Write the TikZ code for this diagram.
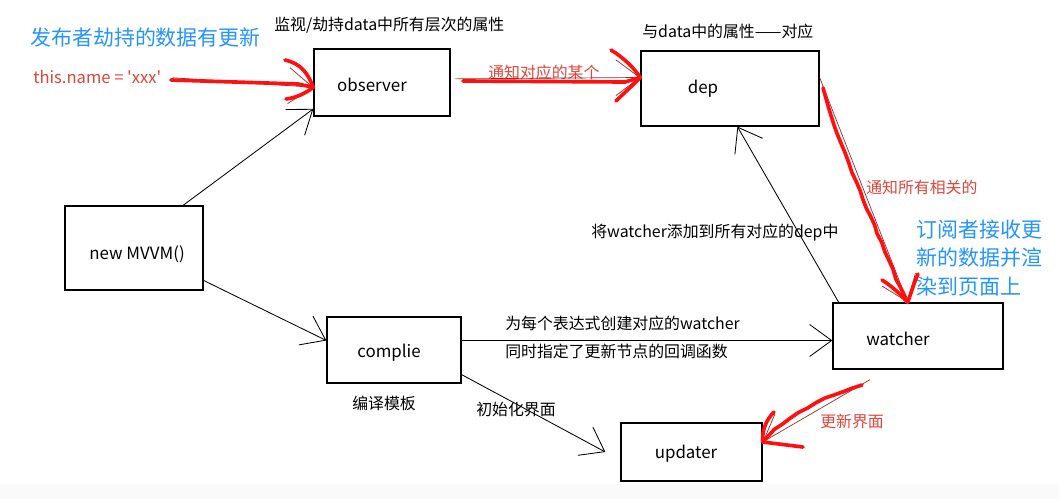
\documentclass[tikz,border=0pt]{standalone}
\usepackage{fontspec}
\setmainfont{Noto Sans CJK SC}
\newfontfamily\codefont{Noto Sans CJK SC}
\usepackage{tikz}
\usetikzlibrary{arrows.meta,calc,decorations.pathmorphing}
\usepackage{xcolor}
\definecolor{notered}{RGB}{221,70,58}
\definecolor{noteblue}{RGB}{36,148,255}
\definecolor{penred}{RGB}{255,16,16}
\definecolor{thinred}{RGB}{150,45,45}

\begin{document}
\begin{tikzpicture}[
    x=0.025cm, y=-0.025cm,
    box/.style={draw, line width=0.9pt, rectangle, inner sep=0pt},
    boxtext/.style={inner sep=0pt, anchor=base, font=\fontsize{12}{14}\selectfont},
    note/.style={inner sep=0pt, anchor=west, font=\fontsize{11.3}{13}\selectfont},
    rednote/.style={note, text=notered},
    bluenote/.style={note, text=noteblue, align=left, font=\fontsize{14.9}{20.3}\selectfont},
    arr/.style={draw, line width=0.6pt, -{Straight Barb[length=0.55cm, width=0.8cm]}},
    thinarr/.style={draw=thinred, line width=0.5pt, -{Straight Barb[length=0.6cm, width=0.9cm]}},
    redpen/.style={draw=penred, line width=2.6pt, line cap=round, line join=round},
    wobble/.style={decorate, decoration={random steps, segment length=7pt, amplitude=0.6pt}}
]
\pgfmathsetseed{11}
\useasboundingbox (0,0) rectangle (1059,499);
\fill[black!2] (0,484) rectangle (1059,499);

% boxes
\node[box, minimum width=3.4cm, minimum height=1.675cm] (observer) at (382,82.5) {};
\node[box, minimum width=4.45cm, minimum height=1.875cm] (dep) at (730,88.5) {};
\node[box, minimum width=3.45cm, minimum height=2.1cm] (mvvm) at (134,248) {};
\node[box, minimum width=3.35cm, minimum height=1.65cm] (complie) at (394,350) {};
\node[box, minimum width=4.25cm, minimum height=1.65cm] (watcher) at (918,336) {};
\node[box, minimum width=3.525cm, minimum height=1.45cm] (updater) at (691.5,452) {};

\node[boxtext] (observer-t) at (372,92) {observer};
\node[boxtext] (dep-t) at (703,94) {dep};
\node[boxtext] (mvvm-t) at (137,259) {new MVVM()};
\node[boxtext] (complie-t) at (389,357) {complie};
\node[boxtext] (watcher-t) at (898,345) {watcher};
\node[boxtext] (updater-t) at (686,458) {updater};

% notes
\node[bluenote] (publisher) at (30,38) {发布者劫持的数据有更新};
\node[rednote, font=\codefont\fontsize{11.8}{14}\selectfont] (assign) at (33,77) {this.name = 'xxx'};
\node[note] (observer-n) at (274,25) {监视/劫持data中所有层次的属性};
\node[rednote] (notify-one) at (488,72) {通知对应的某个};
\node[note] (dep-n) at (642,31) {与data中的属性——对应};
\node[note] (add-dep) at (591,233) {将watcher添加到所有对应的dep中};
\node[rednote] (notify-all) at (866,187) {通知所有相关的};
\node[bluenote] (subscriber) at (916,258) {订阅者接收更\\新的数据并渲\\染到页面上};
\node[note] (create-w) at (505,323) {为每个表达式创建对应的watcher};
\node[note] (callback) at (505,351) {同时指定了更新节点的回调函数};
\node[note] (init-ui) at (476,409) {初始化界面};
\node[note] (compile-n) at (352,403) {编译模板};
\node[rednote] (update-ui) at (820,421) {更新界面};

% black connectors
\coordinate (upd-in) at ($(updater.west)+(-15,0)$);
\draw[arr] (mvvm.41) -- (observer.201);
\draw[arr] (mvvm.-25) -- (complie.172);
\draw[arr] (complie.8) -- (complie.8 -| watcher.west);
\draw[arr] (complie.-20) -- (upd-in);
\draw[arr] (watcher.157) -- (dep.-79);

% red connectors, traced over by hand
\draw[thinarr, shorten <=0.28cm] (assign.east) -- (observer.184);
\draw[thinarr, shorten <=3pt] (observer.3) -- (dep.173);
\draw[thinarr] (dep.7) -- (watcher.107);
\draw[thinarr] (watcher.215) ++(0,10) -- (updater.8);

\draw[redpen] (171,80) -- (298,84) -- (observer.184);
\draw[redpen] (285,60) .. controls (302,64) and (308,74) .. (observer.184)
    .. controls (306,93) and (296,98) .. (286,99);

\draw[redpen] (463,81) -- (625,82) -- (dep.173);
\draw[redpen] (611,50) .. controls (624,58) and (634,68) .. (dep.173)
    .. controls (632,86) and (622,95) .. (616,101);

\draw[redpen, wobble] (823,88) .. controls (835,130) and (850,170) .. (870,215)
    .. controls (885,250) and (898,285) .. (watcher.107);
\draw[redpen] (882,280) .. controls (893,287) and (900,294) .. (watcher.107)
    .. controls (912,290) and (914,283) .. (918,274);

\draw[redpen, wobble] (862,385) .. controls (830,395) and (790,412) .. (updater.8);
\draw[redpen] (774,412) .. controls (766,420) and (762,430) .. (updater.8) -- (803,447);
\end{tikzpicture}
\end{document}
